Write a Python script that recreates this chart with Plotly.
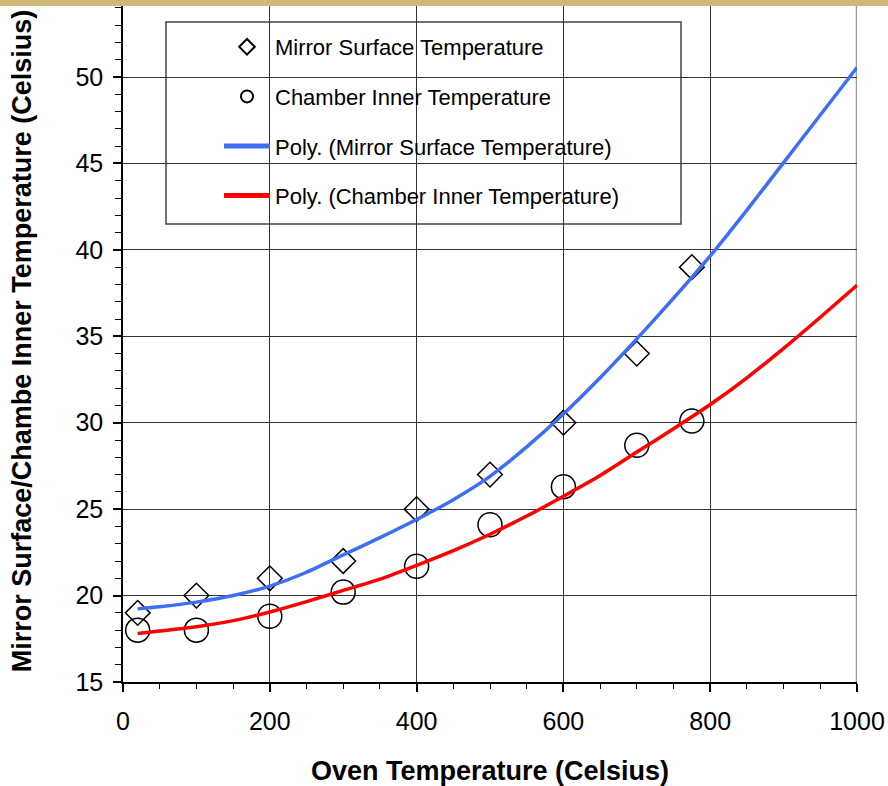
import plotly.graph_objects as go

# Measured points
oven_x = [20, 100, 200, 300, 400, 500, 600, 700, 775]
mirror_y = [19, 20, 21, 22, 25, 27, 30, 34, 39]
chamber_y = [18, 18, 18.8, 20.2, 21.7, 24.1, 26.3, 28.7, 30.1]

# Trendlines
trend_x = [20, 50, 100, 150, 200, 250, 300, 350, 400, 450, 500, 550, 600, 650, 700, 750, 800, 850, 900, 950, 1000]
mirror_poly = [19.23, 19.35, 19.62, 20.0, 20.55, 21.35, 22.35, 23.35, 24.4, 25.55, 26.9, 28.6, 30.5, 32.6, 34.85, 37.2, 39.65, 42.3, 45.05, 47.8, 50.55]
chamber_poly = [17.8, 17.95, 18.2, 18.55, 19.05, 19.65, 20.3, 20.95, 21.75, 22.6, 23.55, 24.6, 25.75, 26.95, 28.3, 29.65, 31.05, 32.6, 34.3, 36.1, 37.95]

x_ticks = [0, 200, 400, 600, 800, 1000]
y_ticks = [15, 20, 25, 30, 35, 40, 45, 50]

FONT = "Arial, 'Liberation Sans', sans-serif"

fig = go.Figure()
fig.add_trace(go.Scatter(
    x=oven_x, y=mirror_y, mode="markers", name="Mirror Surface Temperature",
    marker=dict(symbol="diamond-open", size=19, color="black", line=dict(width=1.5, color="black")),
    legendgroup="a"))
fig.add_trace(go.Scatter(
    x=oven_x, y=chamber_y, mode="markers", name="Chamber Inner Temperature",
    marker=dict(symbol="circle-open", size=24, color="black", line=dict(width=1.5, color="black")),
    legendgroup="b"))
fig.add_trace(go.Scatter(
    x=trend_x, y=mirror_poly, mode="lines", name="Poly. (Mirror Surface Temperature)",
    line=dict(color="#3d6ef5", width=3.5, shape="spline", smoothing=0.6), legendgroup="c"))
fig.add_trace(go.Scatter(
    x=trend_x, y=chamber_poly, mode="lines", name="Poly. (Chamber Inner Temperature)",
    line=dict(color="#ff0000", width=3.5, shape="spline", smoothing=0.6), legendgroup="d"))

L, R, T, B = 123, 31, 0, 104
W, H = 888, 786
pw, ph = W - L - R, H - T - B
ymin = 15
ymax = 15 + ph / ((682 - 77) / 35.0)

def px2x(px):
    return (px - L) / pw

def py2y(py):
    return (H - B - py) / ph

shapes = [
    # legend box
    dict(type="rect", xref="paper", yref="paper", x0=px2x(166), x1=px2x(681), y0=py2y(224), y1=py2y(22),
         fillcolor="white", line=dict(color="#444", width=1.5), layer="between"),
    # right border
    dict(type="line", xref="x", yref="paper", x0=1000, x1=1000, y0=0, y1=1,
         line=dict(color="#999", width=2.5), layer="between"),
    # tan band at top
    dict(type="rect", xref="paper", yref="paper", x0=px2x(0), x1=px2x(W), y0=py2y(6), y1=py2y(-2),
         fillcolor="#cfb977", line=dict(width=0), layer="above"),
]

fig.update_layout(
    width=W, height=H,
    margin=dict(l=L, r=R, t=T, b=B, autoexpand=False),
    paper_bgcolor="white", plot_bgcolor="white",
    font=dict(family=FONT, color="black"),
    showlegend=True,
    legend=dict(x=px2x(219), y=py2y(26), xanchor="left", yanchor="top",
                bgcolor="rgba(0,0,0,0)", borderwidth=0,
                font=dict(size=22, family=FONT, color="black"),
                itemsizing="constant", itemwidth=46, tracegroupgap=18),
    shapes=shapes,
    xaxis=dict(range=[0, 1000], tickvals=x_ticks, ticktext=[str(v) for v in x_ticks],
               showline=True, linecolor="black", linewidth=1.5,
               ticks="outside", ticklen=8, tickwidth=1.5, tickcolor="black",
               tickfont=dict(size=25, family=FONT), ticklabelstandoff=8,
               showgrid=True, gridcolor="#333", gridwidth=1, zeroline=False,
               minor=dict(dtick=50, ticks="outside", ticklen=5, tickwidth=1, tickcolor="black", showgrid=False),
               title=dict(text="<b>Oven Temperature (Celsius)</b>", font=dict(size=27, family=FONT), standoff=27)),
    yaxis=dict(range=[ymin, ymax], tickvals=y_ticks, ticktext=[str(v) for v in y_ticks],
               showline=True, linecolor="black", linewidth=1.5,
               ticks="outside", ticklen=8, tickwidth=1.5, tickcolor="black",
               tickfont=dict(size=25, family=FONT), ticklabelstandoff=5,
               showgrid=True, gridcolor="#333", gridwidth=1, zeroline=False,
               minor=dict(dtick=1, ticks="outside", ticklen=6, tickwidth=1, tickcolor="black", showgrid=False),
               title=dict(text="<b>Mirror Surface/Chambe Inner Temperature (Celsius)</b>", font=dict(size=27, family=FONT), standoff=36)),
)

fig.write_html("out.html", config={"displayModeBar": False},
               post_script="document.body.style.margin='0';document.body.style.overflow='hidden';")
